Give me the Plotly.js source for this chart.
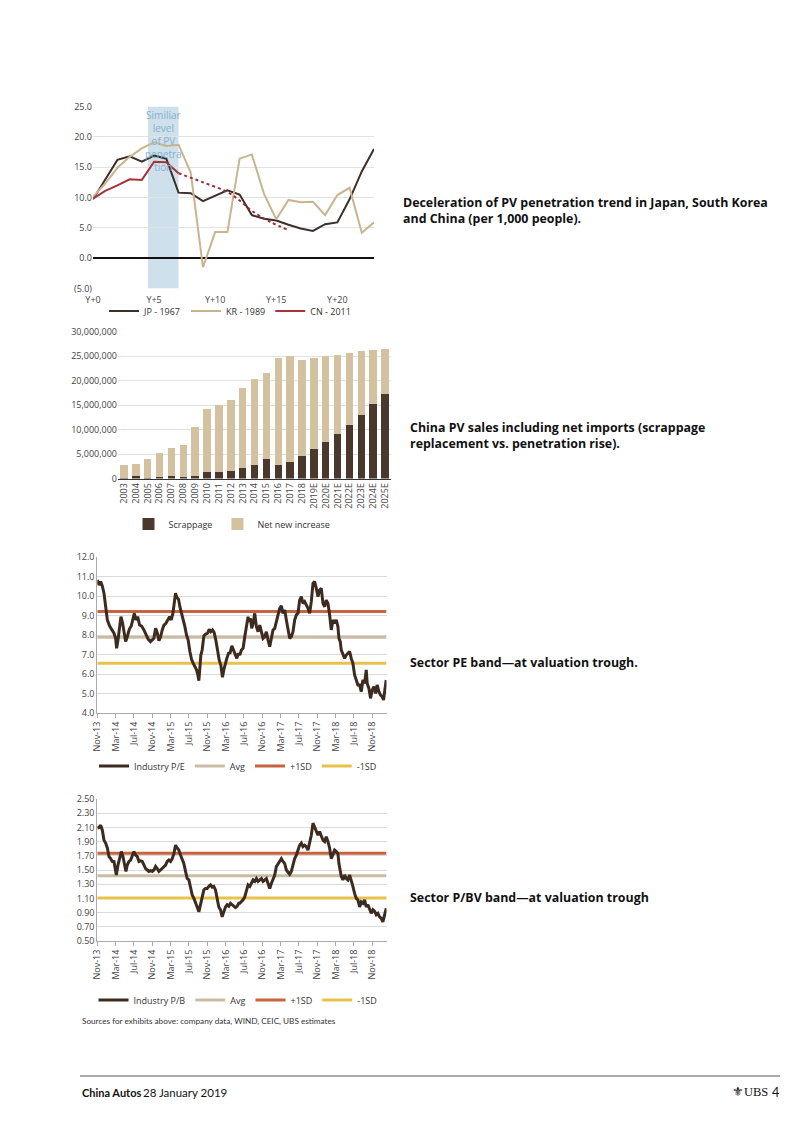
<!DOCTYPE html>
<html><head><meta charset="utf-8">
<script src="https://cdn.plot.ly/plotly-3.0.1.min.js"></script>
<style>html,body{margin:0;padding:0;background:#fff;}#chart{width:802px;height:1133px;}</style>
</head><body><div id="chart"></div>
<script>
// ---------- Chart 1: PV penetration (per 1,000 people) ----------
const penYears = [0,1,2,3,4,5,6,7,8,9,10,11,12,13,14,15,16,17,18,19,20,21,22,23];
const yearTickVals = [0,5,10,15,20];
const yearTickText = ['Y+0','Y+5','Y+10','Y+15','Y+20'];
const penTickVals = [-5,0,5,10,15,20,25];
const penTickText = ['(5.0)','0.0','5.0','10.0','15.0','20.0','25.0'];
const jp = [9.7,13.0,16.2,16.8,15.9,16.9,16.4,10.8,10.7,9.4,10.3,11.2,10.5,7.1,6.5,6.2,5.5,4.9,4.5,5.6,5.9,9.7,14.3,18.0];
const kr = [10.1,12.3,14.9,16.7,18.1,19.1,18.5,18.7,14.1,-1.5,4.3,4.3,16.4,17.1,10.6,6.4,9.6,9.2,9.3,7.1,10.4,11.6,4.2,5.9];
const cnYears = [0,1,2,3,4,5,6,7];
const cn = [9.8,11.1,12.0,13.0,12.9,15.9,15.8,14.0];
const cnTrendYears = [7,9,11,12,13,14.5,16];
const cnTrend = [14.0,12.5,10.9,9.5,7.8,6.0,4.6];
const shadeFrom = 4.5, shadeTo = 7;

// ---------- Chart 2: China PV sales ----------
const salesYears = ['2003','2004','2005','2006','2007','2008','2009','2010','2011','2012','2013','2014','2015','2016','2017','2018','2019E','2020E','2021E','2022E','2023E','2024E','2025E'];
const scrappage = [100000,500000,200000,300000,500000,300000,500000,1400000,1400000,1600000,2200000,2700000,4000000,2800000,3300000,4600000,6000000,7500000,9000000,11000000,13000000,15300000,17300000];
const netNew = [2570000,2500000,3800000,4900000,5800000,6500000,10000000,12800000,13500000,14500000,16200000,17700000,17600000,21800000,21800000,19500000,18600000,17500000,16300000,14600000,13000000,11000000,9200000];

// ---------- Valuation bands (months since Nov-13) ----------
const monthTickVals = [0,4,8,12,16,20,24,28,32,36,40,44,48,52,56,60];
const monthTickText = ['Nov-13','Mar-14','Jul-14','Nov-14','Mar-15','Jul-15','Nov-15','Mar-16','Jul-16','Nov-16','Mar-17','Jul-17','Nov-17','Mar-18','Jul-18','Nov-18'];
const bandStart = 0, bandEnd = 63.1;

const peMonths = [0,0.37,0.73,1.1,1.46,1.82,2.19,2.69,3.27,3.64,4.0,4.22,4.51,4.8,5.16,5.53,5.82,6.18,6.54,6.98,7.41,7.85,8.07,8.43,8.8,9.23,9.67,10.17,10.61,11.12,11.63,12.06,12.35,12.72,13.08,13.44,13.81,14.17,14.54,14.97,15.41,15.77,16.13,16.49,16.78,17.07,17.36,17.73,18.02,18.38,18.74,19.11,19.47,19.83,20.2,20.56,20.92,21.28,21.65,21.94,22.16,22.37,22.59,22.88,23.25,23.68,24.05,24.41,24.77,25.13,25.5,25.86,26.22,26.59,26.95,27.31,27.6,27.89,28.26,28.62,28.98,29.35,29.71,30.07,30.44,30.8,
31.08,31.45,31.81,32.17,32.53,32.9,33.12,33.41,33.7,33.99,34.35,34.71,35.08,35.44,35.8,36.17,36.53,36.89,37.26,37.62,37.98,38.34,38.71,39.07,39.43,39.8,40.16,40.52,40.89,41.25,41.61,41.97,42.34,42.7,43.06,43.43,43.79,44.15,44.52,44.88,45.24,45.6,45.97,46.33,46.69,47.06,47.42,47.78,48.15,48.51,48.87,49.24,49.6,49.96,50.33,50.69,51.05,51.42,51.78,52.14,52.5,52.72,53.01,53.23,53.59,53.96,54.32,54.68,55.05,55.41,55.77,56.14,56.5,56.86,57.23,57.59,57.95,58.32,58.68,58.89,59.26,59.62,59.98,60.35,60.71,61.07,61.44,61.8,62.16,62.45,62.74,63.03];
const peValues = [10.82,10.56,10.74,10.5,10.14,9.45,8.77,8.46,8.26,8.09,7.83,7.32,7.74,8.34,8.94,8.6,8.09,7.66,7.91,8.29,8.46,8.85,9.11,8.77,8.94,8.51,8.46,8.26,8.0,7.78,7.66,7.78,7.83,8.34,8.12,7.71,7.91,8.26,8.51,8.6,8.77,8.94,8.77,9.11,9.62,10.14,9.93,9.83,9.45,9.15,8.77,8.43,8.0,7.74,7.15,6.75,6.55,6.38,6.21,5.95,5.66,6.29,6.97,7.23,7.95,8.05,8.09,8.29,8.17,8.26,8.12,7.74,7.15,6.72,6.46,5.83,6.21,6.51,6.8,7.06,7.09,7.44,7.23,6.97,6.8,7.06,
6.97,7.23,7.32,7.91,8.51,8.94,8.68,8.85,8.34,8.6,9.11,8.43,8.17,8.51,8.17,7.83,7.91,8.17,7.74,7.4,7.83,8.26,8.34,8.77,9.03,9.37,9.49,9.11,9.28,8.77,8.26,7.83,7.91,8.17,8.77,9.03,9.11,9.79,9.97,9.62,9.71,9.54,9.37,9.11,9.71,10.65,10.74,10.39,9.97,10.31,10.39,9.62,9.45,9.79,9.62,9.03,8.26,8.77,8.6,8.77,8.43,7.83,7.66,7.23,7.06,6.8,6.97,7.06,7.15,6.8,6.55,5.95,5.69,5.44,5.44,5.09,5.69,5.52,6.21,5.52,5.26,4.75,5.18,5.35,5.0,5.44,5.09,4.92,4.84,4.67,5.18,5.69];
const peAvg = 7.88, pePlus1SD = 9.20, peMinus1SD = 6.55;

const pbMonths = [0,0.37,0.73,1.1,1.46,1.82,2.19,2.55,2.91,3.28,3.64,3.86,4.15,4.51,4.87,5.24,5.6,5.96,6.25,6.54,6.91,7.27,7.63,8.0,8.36,8.72,9.09,9.45,9.81,10.17,10.54,10.9,11.26,11.63,11.99,12.35,12.72,13.08,13.44,13.81,14.17,14.53,14.9,15.26,15.62,15.98,16.35,16.71,17.07,17.44,17.8,18.16,18.53,18.89,19.25,19.61,19.98,20.34,20.7,21.07,21.43,21.79,22.16,22.52,22.88,23.25,23.61,23.97,24.34,24.7,25.06,25.42,25.79,26.15,26.51,26.88,27.24,27.6,27.97,28.33,28.69,29.06,29.42,29.78,30.14,30.51,30.87,
31.08,31.45,31.81,32.17,32.53,32.9,33.26,33.62,33.99,34.35,34.71,35.08,35.44,35.8,36.17,36.53,36.89,37.26,37.62,37.98,38.34,38.71,39.07,39.43,39.8,40.16,40.52,40.89,41.25,41.61,41.97,42.34,42.7,43.06,43.43,43.79,44.15,44.52,44.88,45.24,45.6,45.97,46.33,46.69,47.06,47.42,47.78,48.15,48.51,48.87,49.24,49.6,49.96,50.33,50.69,51.05,51.42,51.78,52.14,52.5,52.72,53.01,53.23,53.59,53.96,54.32,54.68,55.05,55.41,55.77,56.14,56.5,56.86,57.23,57.59,57.95,58.32,58.68,59.04,59.4,59.77,60.13,60.49,60.86,61.22,61.58,61.95,62.31,62.67,63.04];
const pbValues = [2.09,2.10,2.13,2.06,1.92,1.88,1.81,1.69,1.66,1.62,1.62,1.55,1.43,1.57,1.69,1.76,1.69,1.55,1.48,1.57,1.62,1.64,1.69,1.76,1.71,1.69,1.62,1.63,1.62,1.57,1.52,1.5,1.48,1.49,1.48,1.5,1.55,1.52,1.48,1.5,1.52,1.55,1.57,1.62,1.64,1.62,1.66,1.73,1.85,1.81,1.78,1.71,1.64,1.59,1.48,1.38,1.36,1.27,1.15,1.1,1.05,0.98,0.91,1.03,1.12,1.22,1.24,1.24,1.27,1.29,1.26,1.27,1.22,1.08,0.98,0.94,0.84,0.91,0.98,1.01,0.99,1.03,1.01,0.99,0.97,0.99,1.03,
1.03,1.05,1.08,1.12,1.22,1.29,1.27,1.31,1.36,1.34,1.38,1.34,1.36,1.38,1.34,1.36,1.38,1.31,1.24,1.31,1.38,1.43,1.55,1.59,1.62,1.66,1.62,1.59,1.5,1.46,1.44,1.48,1.57,1.66,1.71,1.78,1.85,1.88,1.83,1.85,1.83,1.78,1.88,1.99,2.16,2.11,2.04,1.99,2.04,1.99,1.92,1.9,1.97,1.9,1.81,1.66,1.73,1.78,1.76,1.73,1.59,1.48,1.41,1.36,1.43,1.38,1.36,1.43,1.36,1.27,1.17,1.1,1.08,0.98,1.05,1.03,1.08,0.98,1.01,0.94,0.89,0.94,0.92,0.87,0.89,0.84,0.82,0.77,0.87,0.96];
const pbAvg = 1.42, pbPlus1SD = 1.735, pbMinus1SD = 1.105;

// ---------- layout helpers ----------
const W = 802, H = 1133;
const fx = p => p / W;
const fy = p => 1 - p / H;
const FONT = 'Open Sans, Noto Sans, sans-serif';
const tickFont = {family: FONT, size: 9, color: '#444'};
const legFont = {family: FONT, size: 9, color: '#333'};
const C = {jp:'#3b2f2a', kr:'#c9b48f', cn:'#a6333b', scrap:'#4a382c', net:'#d4c19f',
  ind:'#3d2b20', avg:'#c9bca3', plus:'#c8633f', minus:'#e8c24a', grid:'#e2e2e2'};

const traces = [
  // chart 1
  {x: penYears, y: jp, type:'scatter', mode:'lines', name:'JP - 1967', line:{color:C.jp, width:2}, xaxis:'x', yaxis:'y', legend:'legend'},
  {x: penYears, y: kr, type:'scatter', mode:'lines', name:'KR - 1989', line:{color:C.kr, width:2}, xaxis:'x', yaxis:'y', legend:'legend'},
  {x: cnYears, y: cn, type:'scatter', mode:'lines', name:'CN - 2011', line:{color:C.cn, width:2}, xaxis:'x', yaxis:'y', legend:'legend'},
  {x: cnTrendYears, y: cnTrend, type:'scatter', mode:'lines', showlegend:false, line:{color:'#9a2f37', width:2, dash:'dot', shape:'spline'}, xaxis:'x', yaxis:'y'},
  // chart 2
  {x: salesYears, y: scrappage, type:'bar', name:'Scrappage', marker:{color:C.scrap}, xaxis:'x2', yaxis:'y2', legend:'legend2'},
  {x: salesYears, y: netNew, type:'bar', name:'Net new increase', marker:{color:C.net}, xaxis:'x2', yaxis:'y2', legend:'legend2'},
  // chart 3
  {x:[bandStart,bandEnd], y:[peAvg,peAvg], type:'scatter', mode:'lines', name:'Avg', line:{color:C.avg, width:3}, xaxis:'x3', yaxis:'y3', legend:'legend3', legendrank:2},
  {x:[bandStart,bandEnd], y:[pePlus1SD,pePlus1SD], type:'scatter', mode:'lines', name:'+1SD', line:{color:C.plus, width:3}, xaxis:'x3', yaxis:'y3', legend:'legend3', legendrank:3},
  {x:[bandStart,bandEnd], y:[peMinus1SD,peMinus1SD], type:'scatter', mode:'lines', name:'-1SD', line:{color:C.minus, width:3}, xaxis:'x3', yaxis:'y3', legend:'legend3', legendrank:4},
  {x: peMonths, y: peValues, type:'scatter', mode:'lines', name:'Industry P/E', line:{color:C.ind, width:3}, xaxis:'x3', yaxis:'y3', legend:'legend3', legendrank:1},
  // chart 4
  {x:[bandStart,bandEnd], y:[pbAvg,pbAvg], type:'scatter', mode:'lines', name:'Avg', line:{color:C.avg, width:3}, xaxis:'x4', yaxis:'y4', legend:'legend4', legendrank:2},
  {x:[bandStart,bandEnd], y:[pbPlus1SD,pbPlus1SD], type:'scatter', mode:'lines', name:'+1SD', line:{color:C.plus, width:3}, xaxis:'x4', yaxis:'y4', legend:'legend4', legendrank:3},
  {x:[bandStart,bandEnd], y:[pbMinus1SD,pbMinus1SD], type:'scatter', mode:'lines', name:'-1SD', line:{color:C.minus, width:3}, xaxis:'x4', yaxis:'y4', legend:'legend4', legendrank:4},
  {x: pbMonths, y: pbValues, type:'scatter', mode:'lines', name:'Industry P/B', line:{color:C.ind, width:3}, xaxis:'x4', yaxis:'y4', legend:'legend4', legendrank:1}
];

function legendAt(xc, yc) {
  return {orientation:'h', x: fx(xc), y: fy(yc), xanchor:'center', yanchor:'middle', traceorder:'normal',
    font: legFont, bgcolor:'rgba(0,0,0,0)', itemwidth:30, tracegroupgap:0};
}
const bandX = (anchor) => ({
  domain:[fx(97.3), fx(386.5)], range:[bandStart, bandEnd], tickvals: monthTickVals, ticktext: monthTickText,
  tickangle:-90, ticks:'outside', ticklen:4, tickcolor:'#aaa', showline:true, linecolor:'#aaa', linewidth:1,
  showgrid:false, zeroline:false, tickfont: tickFont, anchor: anchor
});
const bodyFont = {family:'Open Sans, sans-serif', size:12.4, color:'#111', weight:'bold'};

const layout = {
  width: W, height: H, margin:{l:0,r:0,t:0,b:0}, paper_bgcolor:'#fff', plot_bgcolor:'rgba(0,0,0,0)',
  font:{family: FONT, color:'#333'}, showlegend:true, barmode:'stack', bargap:0.37,
  xaxis:{domain:[fx(93), fx(374)], range:[0,23], tickvals:yearTickVals, ticktext:yearTickText, showgrid:false, zeroline:false, showline:false, ticks:'', ticklabelstandoff:4, tickfont:tickFont, anchor:'y'},
  yaxis:{domain:[fy(288.5), fy(106.5)], range:[-5,25], tickvals:penTickVals, ticktext:penTickText, gridcolor:C.grid, zeroline:true, zerolinecolor:'#111', zerolinewidth:2, showline:false, ticks:'', tickfont:tickFont, anchor:'x'},
  xaxis2:{domain:[fx(118), fx(391)], type:'category', tickangle:-90, ticks:'', showline:true, linecolor:'#333', linewidth:1, showgrid:false, tickfont:tickFont, anchor:'y2'},
  yaxis2:{domain:[fy(478.5), fy(331.5)], range:[0,30000000], dtick:5000000, tickformat:',d', gridcolor:C.grid, zeroline:false, showline:false, ticks:'', tickfont:tickFont, anchor:'x2'},
  xaxis3: bandX('y3'),
  yaxis3:{domain:[fy(713), fy(557)], range:[4,12], dtick:1, tickformat:'.1f', gridcolor:'#dadada', zeroline:false, showline:true, linecolor:'#aaa', ticks:'', tickfont:tickFont, anchor:'x3'},
  xaxis4: bandX('y4'),
  yaxis4:{domain:[fy(941), fy(799)], range:[0.5,2.5], dtick:0.2, tick0:0.5, tickformat:'.2f', gridcolor:'#dadada', zeroline:false, showline:true, linecolor:'#aaa', ticks:'', tickfont:tickFont, anchor:'x4'},
  legend: legendAt(230, 311),
  legend2: legendAt(232, 524),
  legend3: legendAt(238, 766),
  legend4: legendAt(238, 1000),
  shapes: [
    {type:'rect', xref:'x', yref:'y', x0:shadeFrom, x1:shadeTo, y0:-5, y1:25, fillcolor:'#cde0eb', line:{width:0}, layer:'below'},
    {type:'line', xref:'paper', yref:'paper', x0:fx(80), x1:fx(780), y0:fy(1076), y1:fy(1076), line:{color:'#555', width:1}}
  ],
  annotations: [
    {xref:'x', yref:'y', x:(shadeFrom+shadeTo)/2, y:25, yanchor:'top', xanchor:'center', showarrow:false, align:'center',
     text:'Similiar<br>level<br>of PV<br>penetra<br>tion', font:{family:FONT, size:10, color:'#84b2cf'}},
    {xref:'paper', yref:'paper', x:fx(401), y:fy(210), xanchor:'left', yanchor:'middle', align:'left', showarrow:false,
     text:'Deceleration of PV penetration trend in Japan, South Korea<br>and China (per 1,000 people).', font:bodyFont},
    {xref:'paper', yref:'paper', x:fx(408), y:fy(435), xanchor:'left', yanchor:'middle', align:'left', showarrow:false,
     text:'China PV sales including net imports (scrappage<br>replacement vs. penetration rise).', font:bodyFont},
    {xref:'paper', yref:'paper', x:fx(408), y:fy(662), xanchor:'left', yanchor:'middle', align:'left', showarrow:false,
     text:'Sector PE band—at valuation trough.', font:bodyFont},
    {xref:'paper', yref:'paper', x:fx(408), y:fy(897), xanchor:'left', yanchor:'middle', align:'left', showarrow:false,
     text:'Sector P/BV band—at valuation trough', font:bodyFont},
    {xref:'paper', yref:'paper', x:fx(80), y:fy(1021), xanchor:'left', yanchor:'middle', showarrow:false,
     text:'Sources for exhibits above: company data, WIND, CEIC, UBS estimates', font:{family:'Lato, sans-serif', size:8.2, color:'#333'}},
    {xref:'paper', yref:'paper', x:fx(80), y:fy(1092), xanchor:'left', yanchor:'middle', showarrow:false,
     text:'China Autos', font:{family:'Lato, sans-serif', size:11, color:'#111', weight:'bold'}},
    {xref:'paper', yref:'paper', x:fx(141), y:fy(1092), xanchor:'left', yanchor:'middle', showarrow:false,
     text:'28 January 2019', font:{family:'Lato, sans-serif', size:11.5, color:'#111'}},
    {xref:'paper', yref:'paper', x:fx(770), y:fy(1092), xanchor:'right', yanchor:'middle', showarrow:false,
     text:'⚜UBS', font:{family:'Liberation Serif, serif', size:12.5, color:'#111'}},
    {xref:'paper', yref:'paper', x:fx(781), y:fy(1092), xanchor:'right', yanchor:'middle', showarrow:false,
     text:'4', font:{family:'Lato, sans-serif', size:12.5, color:'#111'}}
  ]
};

Plotly.newPlot('chart', traces, layout, {staticPlot:true, displayModeBar:false});
</script>
</body></html>
